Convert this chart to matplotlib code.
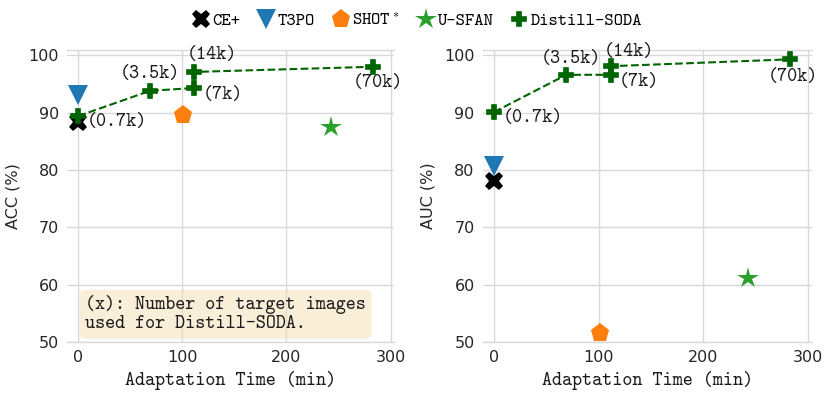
import matplotlib
matplotlib.use("Agg")
import matplotlib.pyplot as plt

plt.rcParams['mathtext.fontset'] = 'cm'

# ---- data ----
methods = ['CE+', 'T3PO', 'SHOT$^*$', 'U-SFAN']
method_time = [0, 0, 101, 243]
acc_methods = [88.3, 93.0, 89.5, 87.5]
auc_methods = [78.0, 80.7, 51.5, 61.2]

soda_time = [0, 69, 111.5, 111.5, 283]
soda_acc = [89.4, 93.8, 94.3, 97.1, 98.0]
soda_auc = [90.1, 96.6, 96.6, 98.1, 99.3]
soda_labels = ['(0.7k)', '(3.5k)', '(7k)', '(14k)', '(70k)']

xticks = [0, 100, 200, 300]
yticks = [50, 60, 70, 80, 90, 100]

# ---- style ----
mk = {'CE+': dict(marker='X', color='black', ms=13),
      'T3PO': dict(marker='v', color='#1f77b4', ms=14),
      'SHOT$^*$': dict(marker='p', color='#ff7f0e', ms=14),
      'U-SFAN': dict(marker='*', color='#2ca02c', ms=16)}
soda_color = '#006400'
TT = 'cmtt10'
grid_c = '#d9d9d9'
FS = 13.8

fig = plt.figure(figsize=(8.30, 3.98), dpi=100)
ax1 = fig.add_axes([0.081, 0.141, 0.394, 0.733])
ax2 = fig.add_axes([0.582, 0.141, 0.396, 0.733])

offsets_left = [((9, -6), 'left'), ((0, 17), 'center'), ((8, -7), 'left'),
                ((18, 17), 'center'), ((5, -16), 'center')]
offsets_right = [((9, -6), 'left'), ((5, 16), 'center'), ((8, -7), 'left'),
                 ((18, 14), 'center'), ((3, -18), 'center')]

for ax, vals, svals, ylabel, offs in [
        (ax1, acc_methods, soda_acc, 'ACC (%)', offsets_left),
        (ax2, auc_methods, soda_auc, 'AUC (%)', offsets_right)]:
    ax.set_axisbelow(True)
    ax.grid(True, color=grid_c, linewidth=1.0)
    for s in ['left', 'right']:
        ax.spines[s].set_visible(False)
    for s in ['top', 'bottom']:
        ax.spines[s].set_color(grid_c)
        ax.spines[s].set_linewidth(1.0)
    ax.tick_params(length=0, labelsize=11.5, colors='#262626', pad=6)
    ax.plot(soda_time, svals, '--', color=soda_color, lw=1.5, zorder=2)
    ax.plot(soda_time, svals, linestyle='none', marker='P', color=soda_color,
            ms=9.5, markeredgewidth=1.2, zorder=4, label='Distill-SODA')
    for name, t, v in zip(methods, method_time, vals):
        ax.plot([t], [v], linestyle='none', label=name, zorder=3,
                markeredgewidth=0, **mk[name])
    for lab, t, v, (off, ha) in zip(soda_labels, soda_time, svals, offs):
        ax.annotate(lab, (t, v), xytext=off, textcoords='offset pixels',
                    ha=ha, va='center', fontfamily=TT, fontsize=FS,
                    color='#1a1a1a')
    ax.set_xlim(-10.5, 303.5)
    ax.set_ylim(50, 100.9)
    ax.set_xticks(xticks)
    ax.set_yticks(yticks)
    ax.set_xlabel('Adaptation Time (min)', fontfamily=TT, fontsize=FS,
                  color='#1a1a1a')
    ax.set_ylabel(ylabel, fontsize=11.5, color='#262626', labelpad=6)

ax1.text(0.055, 0.03, '(x): Number of target images\nused for Distill-SODA.',
         transform=ax1.transAxes, fontfamily=TT, fontsize=FS,
         color='#1a1a1a', va='bottom', ha='left', linespacing=1.05,
         bbox=dict(boxstyle='round,pad=0.3', facecolor='wheat', alpha=0.5,
                   edgecolor='none'))

handles, labels = ax1.get_legend_handles_labels()
order = ['CE+', 'T3PO', 'SHOT$^*$', 'U-SFAN', 'Distill-SODA']
hl = {l: h for h, l in zip(handles, labels)}
fig.legend([hl[o] for o in order], order, loc='upper center',
           bbox_to_anchor=(0.5, 1.01), ncol=5, frameon=False,
           handletextpad=-0.1, columnspacing=0.7, handlelength=1.5,
           prop={'family': TT, 'size': 12.8})

fig.savefig('out.png', dpi=100)
